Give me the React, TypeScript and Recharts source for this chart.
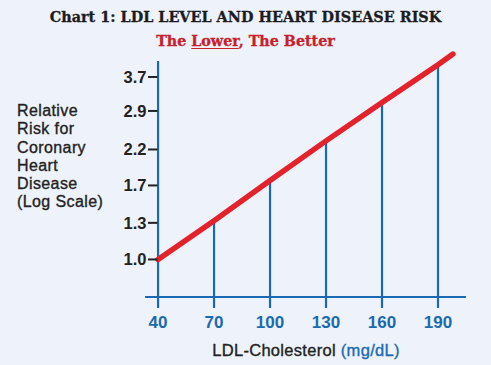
import React from 'react';
import { ComposedChart, Line, XAxis, YAxis, ReferenceLine } from 'recharts';

// LDL levels where the vertical drop lines sit, and risk read at each one
const ldlLevels = [40, 70, 100, 130, 160, 190];
const riskAtLevel = [1.0, 1.32, 1.76, 2.34, 3.08, 4.04];
// the red line runs on a bit past the last tick
const lineEndLdl = 198;
const lineEndRisk = 4.36;

const riskTicks = [1.0, 1.3, 1.7, 2.2, 2.9, 3.7];
const ldlTicks = [40, 70, 100, 130, 160, 190];

const yLabelLines = ['Relative', 'Risk for', 'Coronary', 'Heart', 'Disease', '(Log Scale)'];

const X_DOMAIN: [number, number] = [33, 205];
const Y_DOMAIN: [number, number] = [0.706, 4.587];
const X_AXIS_AT = 0.764;
const Y_AXIS_TOP = 4.15;

const BLUE = '#1A6AB1';
const RED = '#E3222B';
const INK = '#222222';
const BG = '#EEF2FA';
const SANS = '"Liberation Sans", Arial, sans-serif';
const SERIF = '"DejaVu Serif", serif';

const lineData = [
    ...ldlLevels.map((ldl, i) => ({ ldl, risk: riskAtLevel[i] })),
    { ldl: lineEndLdl, risk: lineEndRisk },
];

const RiskTick = ({ x, y, payload }: any) => (
    <g>
        <text x={x + 1.5} y={y} dy={6} textAnchor="end" fontFamily={SANS} fontWeight="bold" fontSize={16.5} fill={INK}>
            {Number(payload.value).toFixed(1)}
        </text>
        <line x1={x + 3} x2={x + 12.5} y1={y} y2={y} stroke={INK} strokeWidth={2} />
    </g>
);

const LdlTick = ({ x, y, payload }: any) => (
    <text x={x} y={y + 20} textAnchor="middle" fontFamily={SANS} fontWeight="bold" fontSize={17} fill={BLUE}>
        {payload.value}
    </text>
);

const medium = { WebkitTextStroke: '0.35px currentColor' } as React.CSSProperties;
const heavy = { WebkitTextStroke: '0.3px currentColor' } as React.CSSProperties;

export default function App() {
    return (
        <div style={{ position: 'absolute', left: 0, top: 0, width: 491, height: 365, background: BG, overflow: 'hidden' }}>
            <div style={{ position: 'absolute', top: 9, left: 0, width: 491, textAlign: 'center', fontFamily: SERIF, fontWeight: 'bold', fontSize: 14.4, lineHeight: '15px', color: '#1c1c1e', ...heavy }}>
                Chart 1: LDL LEVEL AND HEART DISEASE RISK
            </div>
            <div style={{ position: 'absolute', top: 34, left: 0, width: 491, textAlign: 'center', fontFamily: SERIF, fontWeight: 'bold', fontSize: 14.3, lineHeight: '15px', color: '#C8202B', ...heavy }}>
                The <span style={{ textDecoration: 'underline', textUnderlineOffset: 2 }}>Lower</span>, The Better
            </div>

            <div style={{ position: 'absolute', top: 102, left: 17, fontFamily: SANS, fontSize: 16, letterSpacing: 0.4, lineHeight: '18.3px', color: INK, ...medium }}>
                {yLabelLines.map((t) => (
                    <div key={t}>{t}</div>
                ))}
            </div>

            <div style={{ position: 'absolute', top: 341, left: 0, width: 612, textAlign: 'center', fontFamily: SANS, fontSize: 16.5, letterSpacing: 0.3, lineHeight: '18px', color: INK, ...medium }}>
                LDL-Cholesterol <span style={{ color: BLUE }}>(mg/dL)</span>
            </div>

            <div style={{ position: 'absolute', left: 0, top: 0 }}>
                <ComposedChart width={491} height={365} data={lineData} margin={{ top: 47, right: 25, bottom: 0, left: 0 }}>
                    <XAxis
                        dataKey="ldl"
                        type="number"
                        domain={X_DOMAIN}
                        allowDataOverflow
                        ticks={ldlTicks}
                        axisLine={false}
                        tickLine={false}
                        tickSize={0}
                        tickMargin={0}
                        height={57}
                        tick={<LdlTick />}
                    />
                    <YAxis
                        type="number"
                        scale="log"
                        domain={Y_DOMAIN}
                        allowDataOverflow
                        ticks={riskTicks}
                        axisLine={false}
                        tickLine={false}
                        tickSize={0}
                        tickMargin={0}
                        width={145}
                        tick={<RiskTick />}
                    />
                    <ReferenceLine y={X_AXIS_AT} stroke={BLUE} strokeWidth={2.2} />
                    <ReferenceLine
                        segment={[
                            { x: ldlLevels[0], y: Y_DOMAIN[0] },
                            { x: ldlLevels[0], y: Y_AXIS_TOP },
                        ]}
                        stroke={BLUE}
                        strokeWidth={2.2}
                    />
                    {ldlLevels.slice(1).map((ldl, i) => (
                        <ReferenceLine
                            key={ldl}
                            segment={[
                                { x: ldl, y: Y_DOMAIN[0] },
                                { x: ldl, y: riskAtLevel[i + 1] },
                            ]}
                            stroke={BLUE}
                            strokeWidth={2.2}
                        />
                    ))}
                    <Line
                        dataKey="risk"
                        type="linear"
                        stroke={RED}
                        strokeWidth={5.5}
                        strokeLinecap="round"
                        dot={false}
                        activeDot={false}
                        isAnimationActive={false}
                    />
                </ComposedChart>
            </div>
        </div>
    );
}
